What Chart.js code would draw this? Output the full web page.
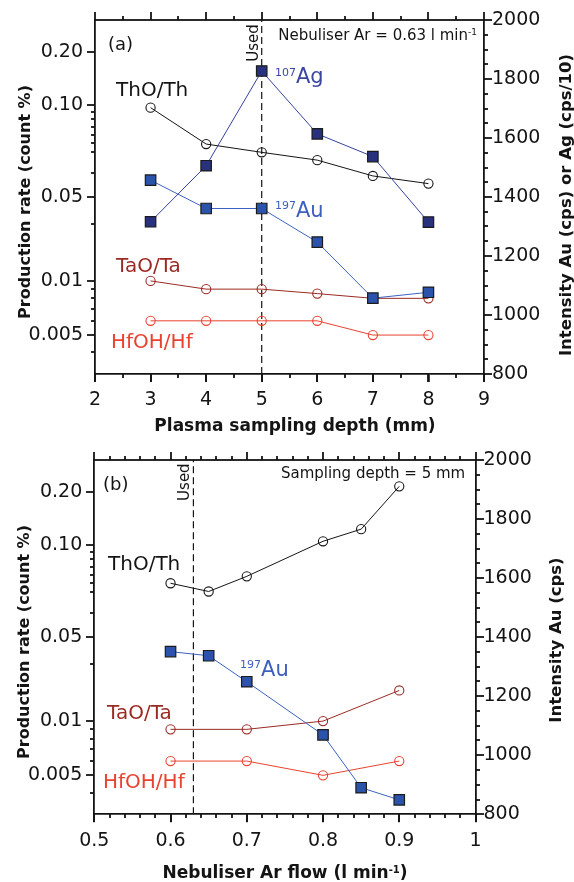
<!DOCTYPE html>
<html>
<head>
<meta charset="utf-8">
<script src="https://cdn.jsdelivr.net/npm/chart.js@4.4.1/dist/chart.umd.min.js"></script>
<style>
html, body { margin: 0; padding: 0; background: #fff; }
#wrap { position: relative; width: 574px; height: 882px; }
canvas { position: absolute; left: 0; }
</style>
</head>
<body>
<div id="wrap">
<canvas id="chartA" width="574" height="441" style="top:0px"></canvas>
<canvas id="chartB" width="574" height="441" style="top:441px"></canvas>
</div>
<script>
// panel (a): plasma sampling depth (mm)
var depthMm = [3, 4, 5, 6, 7, 8]
var agDepth = [1316, 1506, 1827, 1614, 1537, 1315]      // Ag intensity, cps/10
var auDepth = [1457, 1361, 1361, 1247, 1057, 1077]      // Au intensity, cps
var thoDepth = [0.098, 0.0745, 0.070, 0.066, 0.0586, 0.0553]
var taoDepth = [0.010, 0.009, 0.009, 0.0085, 0.008, 0.008]
var hfohDepth = [0.006, 0.006, 0.006, 0.006, 0.005, 0.005]
var usedDepth = 5

// panel (b): nebuliser Ar flow (l/min)
var flowAuTh = [0.6, 0.65, 0.7, 0.8, 0.85, 0.9]
var thoFlow = [0.075, 0.0705, 0.079, 0.105, 0.123, 0.215]
var auFlow = [1351, 1337, 1249, 1069, 890, 849]
var flowTaHf = [0.6, 0.7, 0.8, 0.9]
var taoFlow = [0.009, 0.009, 0.010, 0.018]
var hfohFlow = [0.006, 0.006, 0.005, 0.006]
var usedFlow = 0.63

// left axis (production rate, count %)
var ratioTicks = [0.005, 0.01, 0.05, 0.1, 0.2]
var ratioLabels = ['0.005', '0.01', '0.05', '0.10', '0.20']
var ratioMinor = [0.004, 0.006, 0.007, 0.008, 0.009, 0.03, 0.06, 0.07, 0.075, 0.08, 0.085, 0.09, 0.095]
// where each labelled tick sits on the axis (fraction from bottom)
var ratioTickPos = [0.110, 0.263, 0.500, 0.760, 0.910]

var FONT = '"DejaVu Sans", sans-serif'
var INK = '#141414'
var TICK_W = 1.8

function ratioDecimal(v) {
    var i = 0
    while (i < ratioTicks.length - 2 && v > ratioTicks[i + 1]) i++
    var a = Math.log(ratioTicks[i]), b = Math.log(ratioTicks[i + 1])
    return ratioTickPos[i] + (Math.log(v) - a) / (b - a) * (ratioTickPos[i + 1] - ratioTickPos[i])
}

function ratioValue(d) {
    var i = 0
    while (i < ratioTickPos.length - 2 && d > ratioTickPos[i + 1]) i++
    var a = Math.log(ratioTicks[i]), b = Math.log(ratioTicks[i + 1])
    return Math.exp(a + (d - ratioTickPos[i]) / (ratioTickPos[i + 1] - ratioTickPos[i]) * (b - a))
}

class RatioScale extends Chart.LinearScale {
    determineDataLimits() {
        this.min = ratioTicks[0]
        this.max = ratioTicks[ratioTicks.length - 1]
    }
    buildTicks() {
        return ratioTicks.map(function (v) { return { value: v } })
    }
    getPixelForValue(v) {
        return this.getPixelForDecimal(ratioDecimal(v))
    }
    getValueForPixel(p) {
        return ratioValue(this.getDecimalForPixel(p))
    }
}
RatioScale.id = 'ratio'
RatioScale.defaults = {}
Chart.register(RatioScale)

function points(xs, ys) {
    return xs.map(function (x, i) { return { x: x, y: ys[i] } })
}

function steps(from, to, step, skipEvery) {
    var out = []
    var n = Math.round((to - from) / step)
    for (var i = 0; i <= n; i++) {
        if (skipEvery && i % skipEvery == 0) continue
        out.push(from + i * step)
    }
    return out
}

function squareSeries(data, fill, line) {
    return {
        data: data, yAxisID: 'yR',
        borderColor: line, borderWidth: 1,
        pointStyle: 'rect', pointRadius: 7.4,
        pointBackgroundColor: fill, pointBorderColor: '#1b1b1b', pointBorderWidth: 1.2
    }
}

function circleSeries(data, color) {
    return {
        data: data, yAxisID: 'yL',
        borderColor: color, borderWidth: 1,
        pointStyle: 'circle', pointRadius: 4.6,
        pointBackgroundColor: 'rgba(0,0,0,0)', pointBorderColor: color, pointBorderWidth: 1.1
    }
}

function usedLine(x) {
    return {
        data: [{ x: x, y: 800 }, { x: x, y: 2000 }], yAxisID: 'yR',
        borderColor: INK, borderWidth: 1.2, borderDash: [7, 4], pointRadius: 0
    }
}

// text made of pieces, some raised as superscripts; y is the cap centre
function drawParts(ctx, parts, x, y, o) {
    var weight = o.bold ? 'bold ' : ''
    var sup = o.sup || Math.round(o.size * 0.55)
    var w = 0
    parts.forEach(function (p) {
        ctx.font = weight + (p[1] ? sup : o.size) + 'px ' + FONT
        w += ctx.measureText(p[0]).width
    })
    var cx = x
    if (o.align == 'right') cx = x - w
    if (o.align == 'center') cx = x - w / 2
    var base = y + o.size * 0.729 / 2
    ctx.fillStyle = o.color || INK
    ctx.textAlign = 'left'
    ctx.textBaseline = 'alphabetic'
    parts.forEach(function (p) {
        ctx.font = weight + (p[1] ? sup : o.size) + 'px ' + FONT
        var b = p[1] ? base - o.size * 0.729 + sup * 0.729 : base
        ctx.fillText(p[0], cx, b)
        cx += ctx.measureText(p[0]).width
    })
}

function panelText(p) {
    return {
        id: 'panelText',
        beforeDraw: function (chart) {
            var ctx = chart.ctx, a = chart.chartArea
            var sx = chart.scales.x, sl = chart.scales.yL, sr = chart.scales.yR
            var y0 = Math.round(a.top), y1 = Math.round(a.bottom)
            var x0 = Math.round(a.left), x1 = Math.round(a.right)
            var h = TICK_W / 2
            ctx.save()
            ctx.fillStyle = INK
            // top frame line and outward ticks
            ctx.fillRect(x0 - h, y0 - h, x1 - x0 + TICK_W, TICK_W)
            function xt(v, len) {
                var px = Math.round(sx.getPixelForValue(v))
                ctx.fillRect(px - h, y1, TICK_W, len)
                ctx.fillRect(px - h, y0 - len, TICK_W, len)
            }
            function yt(scale, v, len, side) {
                var py = Math.round(scale.getPixelForValue(v))
                if (side < 0) ctx.fillRect(x0 - len, py - h, len, TICK_W)
                else ctx.fillRect(x1, py - h, len, TICK_W)
            }
            p.xMajor.forEach(function (v) { xt(v, 8) })
            p.xMinor.forEach(function (v) { xt(v, 4) })
            ratioTicks.forEach(function (v) { yt(sl, v, 8, -1) })
            ratioMinor.forEach(function (v) { yt(sl, v, 4, -1) })
            steps(800, 2000, 200).forEach(function (v) { yt(sr, v, 8, 1) })
            steps(800, 2000, 50, 4).forEach(function (v) { yt(sr, v, 4, 1) })
            ctx.restore()
        },
        afterDraw: function (chart) {
            var ctx = chart.ctx
            var sx = chart.scales.x, sr = chart.scales.yR
            ctx.save()
            // labels inside the plot, placed in data units
            p.labels.forEach(function (l) {
                var px = sx.getPixelForValue(l.x), py = sr.getPixelForValue(l.y)
                if (l.rotate) {
                    ctx.save()
                    ctx.translate(px, py)
                    ctx.rotate(-Math.PI / 2)
                    drawParts(ctx, l.parts, 0, 0, l)
                    ctx.restore()
                } else {
                    drawParts(ctx, l.parts, px, py, l)
                }
            })
            // axis titles
            p.titles.forEach(function (t) {
                t.bold = true
                t.align = 'center'
                if (t.rotate) {
                    ctx.save()
                    ctx.translate(t.x, t.y)
                    ctx.rotate(-Math.PI / 2)
                    drawParts(ctx, t.parts, 0, 0, t)
                    ctx.restore()
                } else {
                    drawParts(ctx, t.parts, t.x, t.y, t)
                }
            })
            ctx.restore()
        }
    }
}

function makePanel(id, p) {
    var tickFont = { family: FONT, size: 19 }
    var noPad = function (s) {
        s.paddingTop = 0; s.paddingBottom = 0; s.paddingLeft = 0; s.paddingRight = 0
    }
    new Chart(document.getElementById(id), {
        type: 'scatter',
        data: { datasets: p.datasets },
        plugins: [panelText(p)],
        options: {
            responsive: false,
            animation: false,
            devicePixelRatio: 1,
            layout: { padding: { top: p.top, left: 0, right: 0, bottom: 0 } },
            elements: { line: { tension: 0 } },
            datasets: { scatter: { showLine: true } },
            scales: {
                x: {
                    type: 'linear', position: 'bottom', min: p.xMin, max: p.xMax,
                    ticks: { stepSize: p.xStep, padding: 7, font: tickFont, color: INK, autoSkip: false, maxRotation: 0, callback: p.xLabel },
                    grid: { display: true, drawOnChartArea: false, drawTicks: true, tickLength: 8, color: INK, lineWidth: TICK_W },
                    border: { color: INK, width: TICK_W },
                    afterFit: function (s) { noPad(s); s.height = p.bottomH }
                },
                yL: {
                    type: 'ratio', position: 'left',
                    ticks: { padding: 12, font: tickFont, color: INK, autoSkip: false, callback: function (v, i) { return ratioLabels[i] } },
                    grid: { display: false, drawTicks: false },
                    border: { color: INK, width: TICK_W },
                    afterFit: function (s) { noPad(s); s.width = p.leftW }
                },
                yR: {
                    type: 'linear', position: 'right', min: 800, max: 2000,
                    ticks: { stepSize: 200, padding: 8, font: tickFont, color: INK, autoSkip: false, callback: function (v) { return String(v) } },
                    grid: { display: false, drawTicks: false },
                    border: { color: INK, width: TICK_W },
                    afterFit: function (s) { noPad(s); s.width = p.rightW }
                }
            },
            plugins: {
                legend: { display: false },
                tooltip: { enabled: false }
            }
        }
    })
}

makePanel('chartA', {
    top: 20, leftW: 95, rightW: 90, bottomH: 67,
    xMin: 2, xMax: 9, xStep: 1,
    xLabel: function (v) { return String(v) },
    xMajor: steps(2, 9, 1), xMinor: steps(2.5, 8.5, 1),
    datasets: [
        squareSeries(points(depthMm, agDepth), '#28317c', '#34429e'),
        squareSeries(points(depthMm, auDepth), '#2c53ab', '#3d62c2'),
        circleSeries(points(depthMm, thoDepth), INK),
        circleSeries(points(depthMm, taoDepth), '#9a2a22'),
        circleSeries(points(depthMm, hfohDepth), '#e8432f'),
        usedLine(usedDepth)
    ],
    labels: [
        { parts: [['(a)']], x: 2.234, y: 1922, size: 18 },
        { parts: [['Used']], x: 4.843, y: 1922, size: 15, rotate: true, align: 'center' },
        { parts: [['Nebuliser Ar = 0.63 l min'], ['-1', true]], x: 8.874, y: 1952, size: 15, sup: 9, align: 'right' },
        { parts: [['107', true], ['Ag']], x: 5.239, y: 1813, size: 21, sup: 11, color: '#3a46a0' },
        { parts: [['197', true], ['Au']], x: 5.239, y: 1359, size: 21, sup: 11, color: '#3e5fbf' },
        { parts: [['ThO/Th']], x: 2.378, y: 1766, size: 20 },
        { parts: [['TaO/Ta']], x: 2.378, y: 1169, size: 20, color: '#9a2a22' },
        { parts: [['HfOH/Hf']], x: 2.288, y: 912, size: 20, color: '#e8432f' }
    ],
    titles: [
        { parts: [['Plasma sampling depth (mm)']], x: 295, y: 425, size: 17 },
        { parts: [['Production rate (count %)']], x: 24, y: 202, size: 16, rotate: true },
        { parts: [['Intensity Au (cps) or Ag (cps/10)']], x: 565, y: 205, size: 16.5, rotate: true }
    ]
})

makePanel('chartB', {
    top: 19, leftW: 94.3, rightW: 98.5, bottomH: 67.7,
    xMin: 0.5, xMax: 1, xStep: 0.1,
    xLabel: function (v) { return String(Math.round(v * 10) / 10) },
    xMajor: steps(0.5, 1, 0.1), xMinor: steps(0.5, 1, 0.02, 5),
    datasets: [
        squareSeries(points(flowAuTh, auFlow), '#2c53ab', '#3d62c2'),
        circleSeries(points(flowAuTh, thoFlow), INK),
        circleSeries(points(flowTaHf, taoFlow), '#9a2a22'),
        circleSeries(points(flowTaHf, hfohFlow), '#e8432f'),
        usedLine(usedFlow)
    ],
    labels: [
        { parts: [['(b)']], x: 0.5114, y: 1922, size: 18 },
        { parts: [['Used']], x: 0.617, y: 1925, size: 15, rotate: true, align: 'center' },
        { parts: [['Sampling depth = 5 mm']], x: 0.9865, y: 1959, size: 15, align: 'right' },
        { parts: [['ThO/Th']], x: 0.518, y: 1651, size: 20 },
        { parts: [['197', true], ['Au']], x: 0.6912, y: 1296, size: 21, sup: 11, color: '#3e5fbf' },
        { parts: [['TaO/Ta']], x: 0.5167, y: 1147, size: 20, color: '#9a2a22' },
        { parts: [['HfOH/Hf']], x: 0.5114, y: 913, size: 20, color: '#e8432f' }
    ],
    titles: [
        { parts: [['Nebuliser Ar flow (l min'], ['-1', true], [')']], x: 285, y: 431, size: 17, sup: 10 },
        { parts: [['Production rate (count %)']], x: 23, y: 201, size: 16, rotate: true },
        { parts: [['Intensity Au (cps)']], x: 555, y: 199, size: 16.5, rotate: true }
    ]
})
</script>
</body>
</html>
